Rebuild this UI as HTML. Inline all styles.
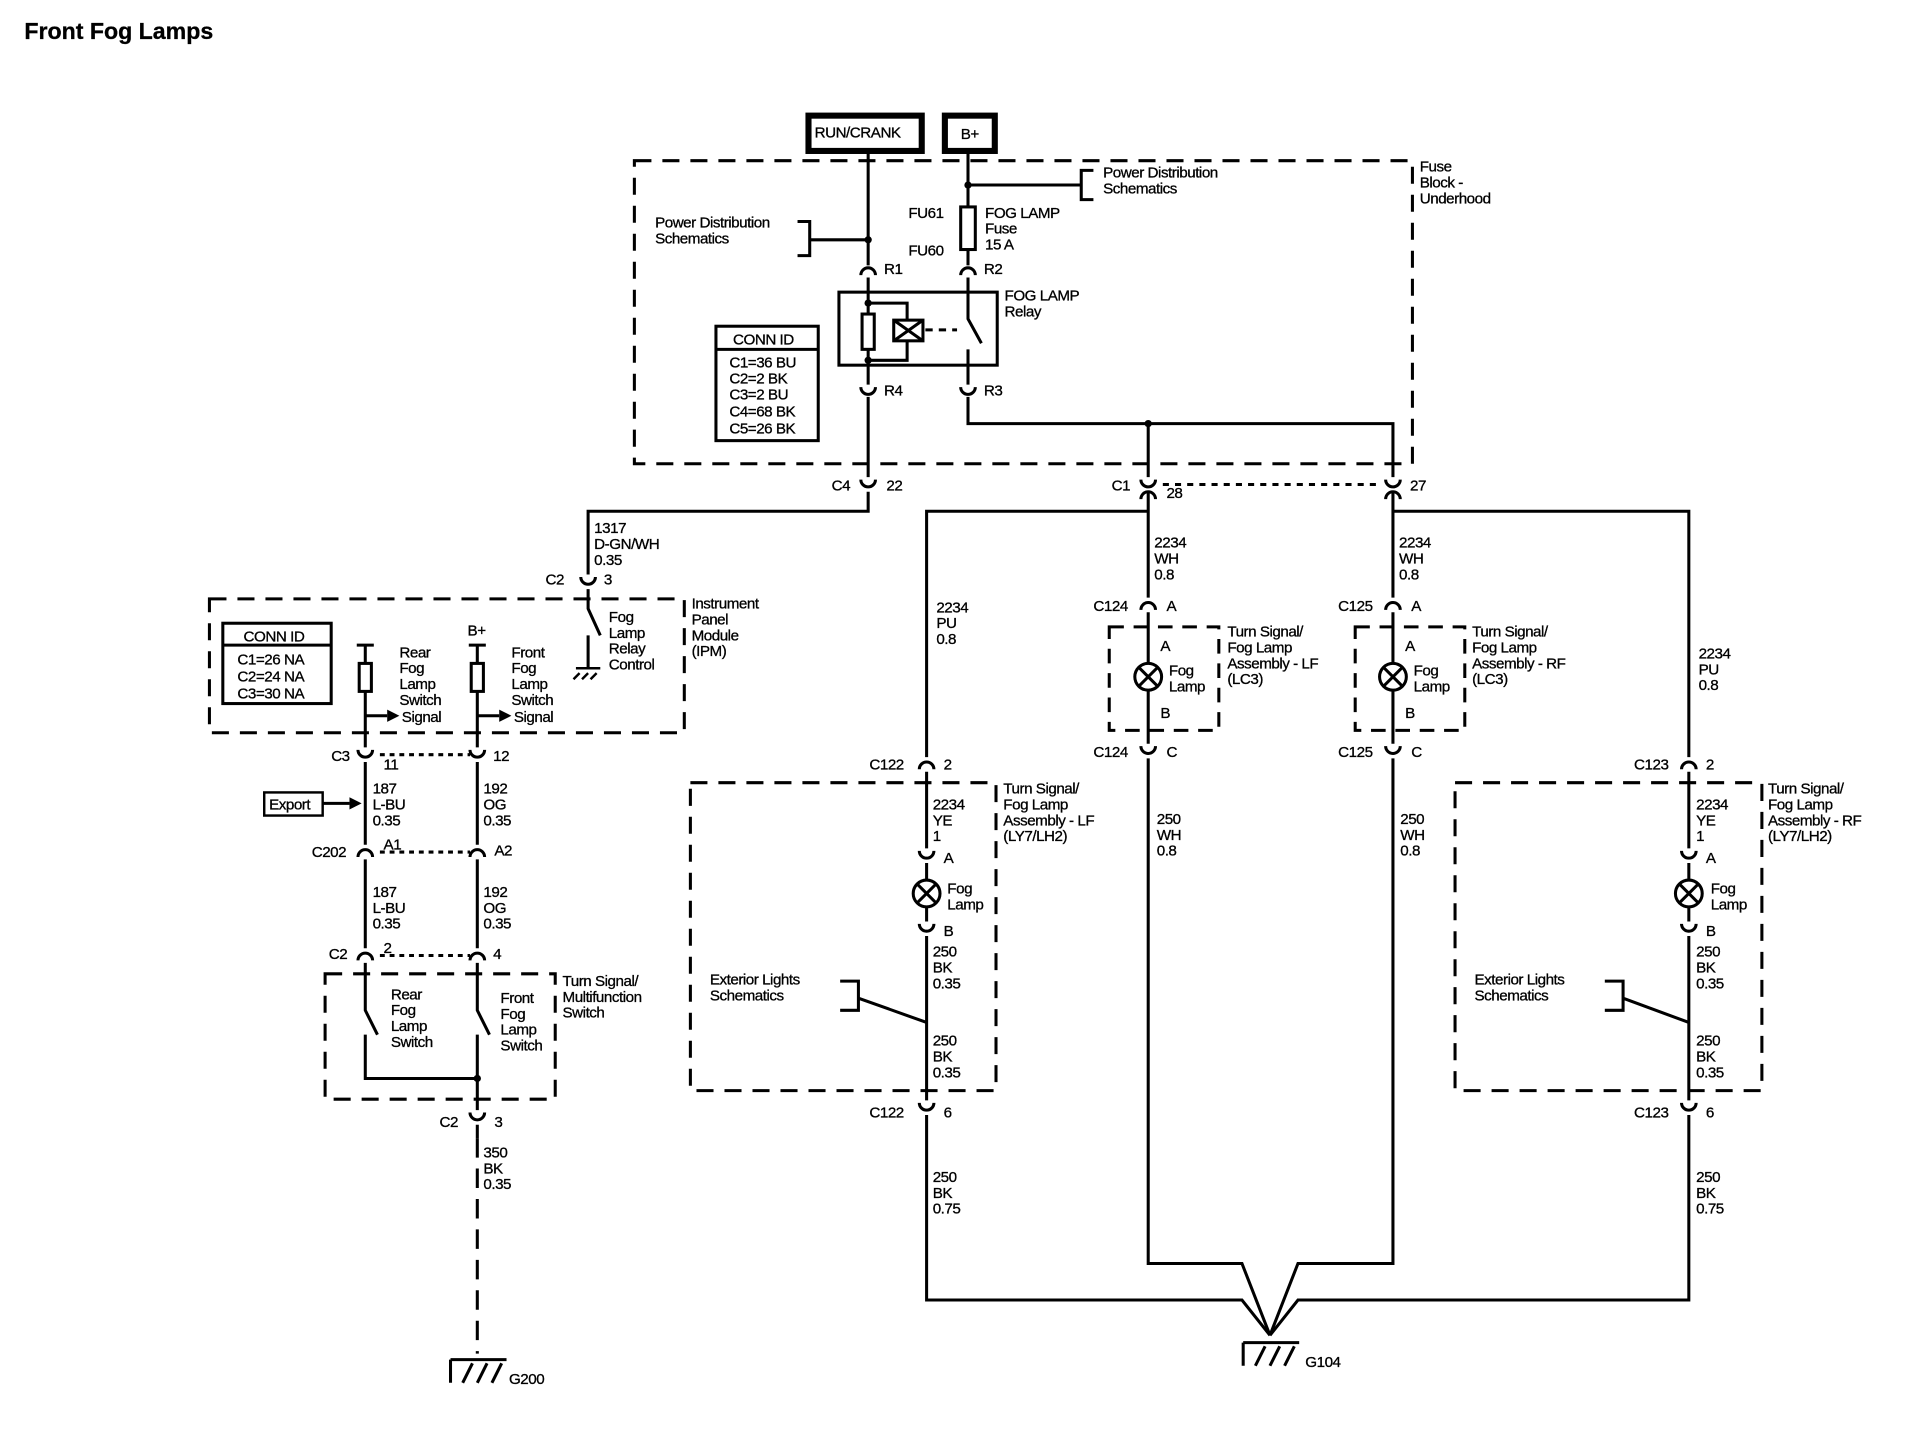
<!DOCTYPE html>
<html><head><meta charset="utf-8"><style>
html,body{margin:0;padding:0;background:#fff;}
svg{display:block}
text{font-family:"Liberation Sans",sans-serif;font-size:12.5px;fill:#000;letter-spacing:-0.4px;stroke:#000;stroke-width:0.25px}
</style></head><body>
<svg width="1908" height="1440" viewBox="0 0 1567 1183" preserveAspectRatio="none" xmlns="http://www.w3.org/2000/svg">
<defs>
<g id="cu"><path d="M-6,-4 A6,6 0 0 0 6,-4" fill="none" stroke="#000" stroke-width="2.5"/></g>
<g id="cn"><path d="M-6,4 A6,6 0 0 1 6,4" fill="none" stroke="#000" stroke-width="2.5"/></g>
<g id="gnd"><path d="M-22,3 H24 M-22,3 V22 M-12,22 L-4,6 M0,22 L8,6 M12,22 L20,6" fill="none" stroke="#000" stroke-width="2.5"/></g>
</defs>
<rect width="1567" height="1183" fill="#fff"/>
<text x="20" y="32" style="font-size:19px;font-weight:bold;letter-spacing:0">Front Fog Lamps</text>

<g fill="none" stroke="#000" stroke-width="2.5">
<rect x="664" y="95" width="93" height="29" stroke-width="5"/>
<rect x="776" y="95" width="41" height="29" stroke-width="5"/>
<rect x="521" y="132" width="639" height="249" stroke-dasharray="14,9"/>
<path d="M713,125 V218 M665,197 H713 M655,182 H665 V210 H655"/>
<path d="M795,125 V170 M795,152 H888 M898,140 H888 V164 H898"/>
<rect x="789" y="170" width="12" height="35"/>
<path d="M795,205 V218"/>
<rect x="689" y="240" width="130" height="60"/>
<path d="M713,228 V316"/>
<rect x="708" y="258" width="10" height="29" fill="#fff"/>
<path d="M713,249 H745 V263 M745,280 V296 H713"/>
<rect x="734" y="263" width="24" height="17" fill="#fff"/>
<path d="M734,263 L758,280 M758,263 L734,280"/>
<path d="M760,271 H786" stroke-dasharray="6,5"/>
<path d="M795,228 V262 L806,282 M795,287 V316"/>
<path d="M795,326 V348 H1144 V392 M943,348 V392"/>
<path d="M713,326 V392"/>
<rect x="588" y="268" width="84" height="94"/>
<path d="M588,287 H672"/>
<path d="M713,404 V420 H483 V472"/>
<rect x="172" y="492" width="390" height="110" stroke-dasharray="14,9"/>
<path d="M483,484 V500 L493,522 M483,522 V548"/>
<path d="M473,549 H493 M476,553 L471,558 M483,553 L478,558 M490,553 L485,558" stroke-width="2"/>
<rect x="183" y="512" width="89" height="66"/>
<path d="M183,530 H272"/>
<path d="M293,530 H307 M300,530 V545 M300,568 V614"/>
<rect x="295" y="545" width="10" height="23"/>
<path d="M300,588 H318"/>
<path d="M385,530 H399 M392,530 V545 M392,568 V614"/>
<rect x="387" y="545" width="10" height="23"/>
<path d="M392,588 H410"/>
<path d="M300,626 V694 M392,626 V694 M300,706 V779 M392,706 V779"/>
<path d="M312,620 H386 M312,700 H386 M312,785 H386" stroke-dasharray="4,4"/>
<rect x="217" y="651" width="48" height="19" stroke-width="2"/>
<path d="M265,660 H287"/>
<rect x="267" y="800" width="189" height="103" stroke-dasharray="14,9"/>
<path d="M300,791 V830 L310,850 M300,850 V886 H392 V912 M392,791 V830 L402,850 M392,850 V886"/>
<path d="M392,924 V935"/>
<path d="M392,935 V1112" stroke-dasharray="16,9"/>
<path d="M955,398 H1135" stroke-dasharray="5,5"/>
<path d="M943,404 V491 M943,420 H761 V622 M1144,404 V491 M1144,420 H1387 V622"/>
<rect x="911" y="515" width="90" height="85" stroke-dasharray="12,8"/>
<path d="M943,503 V545 M943,567 V611"/>
<rect x="1113" y="515" width="90" height="85" stroke-dasharray="12,8"/>
<path d="M1144,503 V545 M1144,567 V611"/>
<path d="M943,623 V1038 H1020 L1043,1097 M1144,623 V1038 H1066 L1043,1097"/>
<rect x="567" y="643" width="251" height="253" stroke-dasharray="14,9"/>
<path d="M761,634 V697 M761,709 V723 M761,745 V757 M761,769 V904"/>
<path d="M690,806 H705 V830 H690 M705,820 L761,840"/>
<path d="M761,916 V1068 H1020 L1043,1097"/>
<rect x="1195" y="643" width="252" height="253" stroke-dasharray="14,9"/>
<path d="M1387,634 V697 M1387,709 V723 M1387,745 V757 M1387,769 V904"/>
<path d="M1318,806 H1333 V830 H1318 M1333,820 L1387,840"/>
<path d="M1387,916 V1068 H1066 L1043,1097"/>
</g>
<g fill="#000">
<circle cx="713" cy="197" r="3"/><circle cx="795" cy="152" r="3"/>
<circle cx="713" cy="249" r="3"/><circle cx="713" cy="296" r="3"/>
<circle cx="943" cy="348" r="3"/><circle cx="392" cy="886" r="3"/>
<path d="M318,583 L328,588 L318,593 Z"/><path d="M410,583 L420,588 L410,593 Z"/>
<path d="M287,655 L297,660 L287,665 Z"/>
</g>
<g fill="#fff" stroke="#000" stroke-width="2.5">
<circle cx="943" cy="556" r="11"/><circle cx="1144" cy="556" r="11"/>
<circle cx="761" cy="734" r="11"/><circle cx="1387" cy="734" r="11"/>
</g>
<g stroke="#000" stroke-width="2.5">
<path d="M935,548 L951,564 M951,548 L935,564"/>
<path d="M1136,548 L1152,564 M1152,548 L1136,564"/>
<path d="M753,726 L769,742 M769,726 L753,742"/>
<path d="M1379,726 L1395,742 M1395,726 L1379,742"/>
</g>
<use href="#cn" x="713" y="222"/><use href="#cn" x="795" y="222"/>
<use href="#cu" x="713" y="322"/><use href="#cu" x="795" y="322"/>
<use href="#cu" x="713" y="398"/><use href="#cu" x="943" y="398"/><use href="#cu" x="1144" y="398"/>
<use href="#cn" x="943" y="406"/><use href="#cn" x="1144" y="406"/>
<use href="#cu" x="483" y="478"/>
<use href="#cu" x="300" y="620"/><use href="#cu" x="392" y="620"/>
<use href="#cn" x="300" y="700"/><use href="#cn" x="392" y="700"/>
<use href="#cn" x="300" y="785"/><use href="#cn" x="392" y="785"/>
<use href="#cu" x="392" y="918"/>
<use href="#cn" x="943" y="497"/><use href="#cn" x="1144" y="497"/>
<use href="#cu" x="943" y="617"/><use href="#cu" x="1144" y="617"/>
<use href="#cn" x="761" y="628"/><use href="#cn" x="1387" y="628"/>
<use href="#cu" x="761" y="703"/><use href="#cu" x="1387" y="703"/>
<use href="#cu" x="761" y="763"/><use href="#cu" x="1387" y="763"/>
<use href="#cu" x="761" y="910"/><use href="#cu" x="1387" y="910"/>
<use href="#gnd" x="392" y="1114"/>
<use href="#gnd" x="1043" y="1100"/>

<text x="669" y="113">RUN/CRANK</text>
<text x="789" y="114">B+</text>
<text x="1166" y="141">Fuse</text><text x="1166" y="154">Block -</text><text x="1166" y="167">Underhood</text>
<text x="906" y="146">Power Distribution</text><text x="906" y="159">Schematics</text>
<text x="538" y="187">Power Distribution</text><text x="538" y="200">Schematics</text>
<text x="746" y="179">FU61</text><text x="746" y="210">FU60</text>
<text x="809" y="179">FOG LAMP</text><text x="809" y="192">Fuse</text><text x="809" y="205">15 A</text>
<text x="726" y="225">R1</text><text x="808" y="225">R2</text>
<text x="825" y="247">FOG LAMP</text><text x="825" y="260">Relay</text>
<text x="726" y="325">R4</text><text x="808" y="325">R3</text>
<text x="602" y="283">CONN ID</text>
<text x="599" y="302">C1=36 BU</text><text x="599" y="315">C2=2 BK</text><text x="599" y="328">C3=2 BU</text><text x="599" y="342">C4=68 BK</text><text x="599" y="356">C5=26 BK</text>
<text x="683" y="403">C4</text><text x="728" y="403">22</text>
<text x="913" y="403">C1</text><text x="958" y="409">28</text><text x="1158" y="403">27</text>
<text x="488" y="438">1317</text><text x="488" y="451">D-GN/WH</text><text x="488" y="464">0.35</text>
<text x="448" y="480">C2</text><text x="496" y="480">3</text>
<text x="568" y="500">Instrument</text><text x="568" y="513">Panel</text><text x="568" y="526">Module</text><text x="568" y="539">(IPM)</text>
<text x="500" y="511">Fog</text><text x="500" y="524">Lamp</text><text x="500" y="537">Relay</text><text x="500" y="550">Control</text>
<text x="200" y="527">CONN ID</text>
<text x="195" y="546">C1=26 NA</text><text x="195" y="560">C2=24 NA</text><text x="195" y="574">C3=30 NA</text>
<text x="328" y="540">Rear</text><text x="328" y="553">Fog</text><text x="328" y="566">Lamp</text><text x="328" y="579">Switch</text><text x="330" y="593">Signal</text>
<text x="384" y="522">B+</text>
<text x="420" y="540">Front</text><text x="420" y="553">Fog</text><text x="420" y="566">Lamp</text><text x="420" y="579">Switch</text><text x="422" y="593">Signal</text>
<text x="272" y="625">C3</text><text x="315" y="632">11</text><text x="405" y="625">12</text>
<text x="306" y="652">187</text><text x="306" y="665">L-BU</text><text x="306" y="678">0.35</text>
<text x="397" y="652">192</text><text x="397" y="665">OG</text><text x="397" y="678">0.35</text>
<text x="221" y="665">Export</text>
<text x="256" y="704">C202</text><text x="315" y="698">A1</text><text x="406" y="703">A2</text>
<text x="306" y="737">187</text><text x="306" y="750">L-BU</text><text x="306" y="763">0.35</text>
<text x="397" y="737">192</text><text x="397" y="750">OG</text><text x="397" y="763">0.35</text>
<text x="270" y="788">C2</text><text x="315" y="783">2</text><text x="405" y="788">4</text>
<text x="462" y="810">Turn Signal/</text><text x="462" y="823">Multifunction</text><text x="462" y="836">Switch</text>
<text x="321" y="821">Rear</text><text x="321" y="834">Fog</text><text x="321" y="847">Lamp</text><text x="321" y="860">Switch</text>
<text x="411" y="824">Front</text><text x="411" y="837">Fog</text><text x="411" y="850">Lamp</text><text x="411" y="863">Switch</text>
<text x="361" y="926">C2</text><text x="406" y="926">3</text>
<text x="397" y="951">350</text><text x="397" y="964">BK</text><text x="397" y="977">0.35</text>
<text x="418" y="1137">G200</text>
<text x="948" y="450">2234</text><text x="948" y="463">WH</text><text x="948" y="476">0.8</text>
<text x="1149" y="450">2234</text><text x="1149" y="463">WH</text><text x="1149" y="476">0.8</text>
<text x="769" y="503">2234</text><text x="769" y="516">PU</text><text x="769" y="529">0.8</text>
<text x="1395" y="541">2234</text><text x="1395" y="554">PU</text><text x="1395" y="567">0.8</text>
<text x="898" y="502">C124</text><text x="958" y="502">A</text>
<text x="1099" y="502">C125</text><text x="1159" y="502">A</text>
<text x="953" y="535">A</text><text x="960" y="555">Fog</text><text x="960" y="568">Lamp</text><text x="953" y="590">B</text>
<text x="1154" y="535">A</text><text x="1161" y="555">Fog</text><text x="1161" y="568">Lamp</text><text x="1154" y="590">B</text>
<text x="1008" y="523">Turn Signal/</text><text x="1008" y="536">Fog Lamp</text><text x="1008" y="549">Assembly - LF</text><text x="1008" y="562">(LC3)</text>
<text x="1209" y="523">Turn Signal/</text><text x="1209" y="536">Fog Lamp</text><text x="1209" y="549">Assembly - RF</text><text x="1209" y="562">(LC3)</text>
<text x="898" y="622">C124</text><text x="958" y="622">C</text>
<text x="1099" y="622">C125</text><text x="1159" y="622">C</text>
<text x="714" y="632">C122</text><text x="775" y="632">2</text>
<text x="1342" y="632">C123</text><text x="1401" y="632">2</text>
<text x="824" y="652">Turn Signal/</text><text x="824" y="665">Fog Lamp</text><text x="824" y="678">Assembly - LF</text><text x="824" y="691">(LY7/LH2)</text>
<text x="1452" y="652">Turn Signal/</text><text x="1452" y="665">Fog Lamp</text><text x="1452" y="678">Assembly - RF</text><text x="1452" y="691">(LY7/LH2)</text>
<text x="766" y="665">2234</text><text x="766" y="678">YE</text><text x="766" y="691">1</text>
<text x="1393" y="665">2234</text><text x="1393" y="678">YE</text><text x="1393" y="691">1</text>
<text x="775" y="709">A</text><text x="1401" y="709">A</text>
<text x="778" y="734">Fog</text><text x="778" y="747">Lamp</text>
<text x="1405" y="734">Fog</text><text x="1405" y="747">Lamp</text>
<text x="775" y="769">B</text><text x="1401" y="769">B</text>
<text x="766" y="786">250</text><text x="766" y="799">BK</text><text x="766" y="812">0.35</text>
<text x="1393" y="786">250</text><text x="1393" y="799">BK</text><text x="1393" y="812">0.35</text>
<text x="583" y="809">Exterior Lights</text><text x="583" y="822">Schematics</text>
<text x="1211" y="809">Exterior Lights</text><text x="1211" y="822">Schematics</text>
<text x="766" y="859">250</text><text x="766" y="872">BK</text><text x="766" y="885">0.35</text>
<text x="1393" y="859">250</text><text x="1393" y="872">BK</text><text x="1393" y="885">0.35</text>
<text x="714" y="918">C122</text><text x="775" y="918">6</text>
<text x="1342" y="918">C123</text><text x="1401" y="918">6</text>
<text x="950" y="677">250</text><text x="950" y="690">WH</text><text x="950" y="703">0.8</text>
<text x="1150" y="677">250</text><text x="1150" y="690">WH</text><text x="1150" y="703">0.8</text>
<text x="766" y="971">250</text><text x="766" y="984">BK</text><text x="766" y="997">0.75</text>
<text x="1393" y="971">250</text><text x="1393" y="984">BK</text><text x="1393" y="997">0.75</text>
<text x="1072" y="1123">G104</text>
</svg>
</body></html>
